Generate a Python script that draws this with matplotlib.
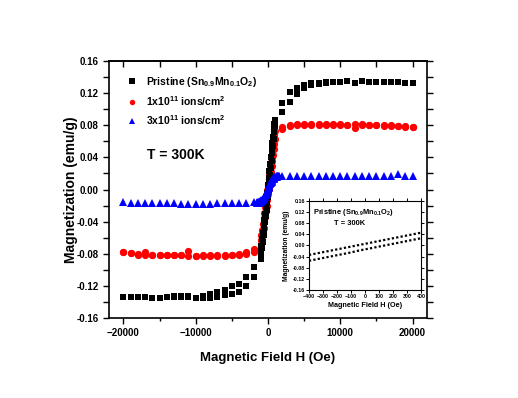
import numpy as np
import matplotlib
matplotlib.use("Agg")
import matplotlib.pyplot as plt
from matplotlib.ticker import MultipleLocator, FormatStrFormatter

plt.rcParams['font.family'] = ['Liberation Sans', 'DejaVu Sans']
plt.rcParams['font.weight'] = 'bold'
plt.rcParams['mathtext.fontset'] = 'custom'
plt.rcParams['mathtext.rm'] = 'Liberation Sans:bold'
plt.rcParams['mathtext.it'] = 'Liberation Sans:bold'
plt.rcParams['mathtext.bf'] = 'Liberation Sans:bold'
plt.rcParams['mathtext.default'] = 'regular'

# ---------------- data ----------------
labels = [r'Pristine (Sn$_{0.9}$Mn$_{0.1}$O$_2$)',
          r'1x10$^{11}$ ions/cm$^2$',
          r'3x10$^{11}$ ions/cm$^2$']

H_neg = [-20000, -19000, -18000, -17000, -16000, -15000, -14000, -13000, -12000, -11000,
         -10000, -9000, -8000, -7000, -6000, -5000, -4000, -3000, -2000]
H_pos = [2000, 3000, 4000, 5000, 6000, 7000, 8000, 9000, 10000, 11000,
         12000, 13000, 14000, 15000, 16000, 17000, 18000, 19000, 20000]
H_core = [-1000, -900, -800, -700, -600, -500, -400, -300, -200, -100, 0,
          100, 200, 300, 400, 500, 600, 700, 800, 900, 1000]

# Pristine (black squares)
pr_neg_up = [-0.134, -0.134, -0.134, -0.134, -0.135, -0.135, -0.134, -0.132, -0.133, -0.133,
             -0.135, -0.132, -0.130, -0.128, -0.125, -0.120, -0.118, -0.109, -0.096]
pr_neg_lo = [-0.134, -0.134, -0.134, -0.134, -0.135, -0.135, -0.134, -0.134, -0.134, -0.134,
             -0.135, -0.135, -0.135, -0.134, -0.131, -0.130, -0.128, -0.120, -0.109]
pr_pos_up = [0.108, 0.121, 0.127, 0.130, 0.132, 0.132, 0.1335, 0.134, 0.134, 0.1355,
             0.133, 0.1355, 0.134, 0.134, 0.134, 0.134, 0.134, 0.133, 0.132]
pr_pos_lo = [0.097, 0.109, 0.1185, 0.126, 0.130, 0.131, 0.133, 0.134, 0.134, 0.135,
             0.133, 0.135, 0.134, 0.134, 0.134, 0.134, 0.134, 0.133, 0.132]
pr_core_up = [-0.078, -0.070, -0.062, -0.054, -0.046, -0.038, -0.030, -0.022, -0.013, -0.004, 0.005,
              0.014, 0.023, 0.032, 0.041, 0.050, 0.058, 0.066, 0.074, 0.081, 0.087]
pr_core_lo = [-0.086, -0.080, -0.073, -0.065, -0.057, -0.049, -0.041, -0.033, -0.025, -0.017, -0.009,
              0.000, 0.009, 0.018, 0.027, 0.036, 0.045, 0.054, 0.063, 0.071, 0.079]

# 1x10^11 (red circles)
r1_neg_up = [-0.078, -0.0795, -0.080, -0.078, -0.081, -0.081, -0.081, -0.0815, -0.081, -0.076,
             -0.0825, -0.082, -0.082, -0.082, -0.081, -0.081, -0.080, -0.078, -0.074]
r1_neg_lo = [-0.078, -0.0795, -0.081, -0.082, -0.081, -0.081, -0.081, -0.0815, -0.082, -0.083,
             -0.0825, -0.083, -0.083, -0.083, -0.083, -0.082, -0.081, -0.080, -0.078]
r1_pos_up = [0.078, 0.080, 0.081, 0.081, 0.081, 0.081, 0.081, 0.081, 0.081, 0.0805,
             0.081, 0.081, 0.080, 0.080, 0.080, 0.080, 0.0795, 0.079, 0.078]
r1_pos_lo = [0.075, 0.079, 0.080, 0.080, 0.080, 0.080, 0.080, 0.080, 0.080, 0.080,
             0.077, 0.080, 0.080, 0.080, 0.079, 0.079, 0.079, 0.078, 0.078]
r1_core_up = [-0.063, -0.057, -0.050, -0.043, -0.036, -0.029, -0.022, -0.015, -0.008, -0.001, 0.006,
              0.013, 0.020, 0.027, 0.034, 0.041, 0.048, 0.055, 0.062, 0.068, 0.073]
r1_core_lo = [-0.073, -0.068, -0.062, -0.055, -0.048, -0.041, -0.034, -0.027, -0.020, -0.013, -0.006,
              0.001, 0.008, 0.015, 0.022, 0.029, 0.036, 0.043, 0.050, 0.057, 0.063]

# 3x10^11 (blue triangles)
r3_neg = [-0.016, -0.0165, -0.0165, -0.0165, -0.0165, -0.0165, -0.0165, -0.0165, -0.018, -0.0175,
          -0.0175, -0.0175, -0.0175, -0.017, -0.017, -0.017, -0.0165, -0.0165, -0.016]
r3_pos = [0.0162, 0.0168, 0.0168, 0.0168, 0.0168, 0.0168, 0.0168, 0.0168, 0.0168, 0.0168,
          0.017, 0.0168, 0.0168, 0.0168, 0.0168, 0.0168, 0.019, 0.017, 0.0162]
H_core_b = [-1500, -1400, -1300, -1200, -1100, -1000, -900, -800, -700, -600, -500, -400, -300, -200,
            -100, 0, 100, 200, 300, 400, 500, 600, 700, 800, 900, 1000, 1100, 1200, 1300, 1400, 1500]
r3_core_up = [-0.0160, -0.0158, -0.0155, -0.0150, -0.0146, -0.0140, -0.0133, -0.0125, -0.0115, -0.0104,
              -0.0090, -0.0074, -0.0056, -0.0036, -0.0014, 0.0010, 0.0035, 0.0058, 0.0079, 0.0097,
              0.0112, 0.0125, 0.0136, 0.0145, 0.0152, 0.0157, 0.0160, 0.0163, 0.0165, 0.0166, 0.0167]
r3_core_lo = [-0.0166, -0.0165, -0.0163, -0.0160, -0.0156, -0.0151, -0.0145, -0.0137, -0.0128, -0.0117,
              -0.0104, -0.0088, -0.0070, -0.0050, -0.0028, -0.0004, 0.0020, 0.0043, 0.0064, 0.0083,
              0.0099, 0.0113, 0.0125, 0.0136, 0.0144, 0.0151, 0.0156, 0.0160, 0.0163, 0.0165, 0.0166]

# inset (pristine, low field)
H_in = [-400, -350, -300, -250, -200, -150, -100, -50, 0, 50, 100, 150, 200, 250, 300, 350, 400]
in_up = [-0.034, -0.029, -0.024, -0.019, -0.014, -0.009, -0.004, 0.001, 0.006, 0.011,
         0.016, 0.021, 0.026, 0.031, 0.036, 0.041, 0.046]
in_lo = [-0.055, -0.050, -0.045, -0.040, -0.035, -0.030, -0.025, -0.019, -0.014, -0.009,
         -0.004, 0.001, 0.006, 0.011, 0.016, 0.021, 0.026]

# ---------------- figure ----------------
fig = plt.figure(figsize=(5.18, 3.98), dpi=100)
ax = fig.add_axes([0.2104, 0.201, 0.6139, 0.6457])

def draw(xs_list, ys_list, marker, color, label, size):
    first = True
    for xs, ys in zip(xs_list, ys_list):
        ax.plot(xs, ys, linestyle='none', marker=marker, color=color, markersize=size,
                markeredgewidth=0, label=label if first else None)
        first = False

draw([H_neg, H_neg, H_pos, H_pos, H_core, H_core],
     [r1_neg_up, r1_neg_lo, r1_pos_up, r1_pos_lo, r1_core_up, r1_core_lo],
     'o', '#ff0000', labels[1], 5.2)
draw([H_neg, H_neg, H_pos, H_pos, H_core, H_core],
     [pr_neg_up, pr_neg_lo, pr_pos_up, pr_pos_lo, pr_core_up, pr_core_lo],
     's', 'black', labels[0], 4.9)
draw([H_neg, H_pos, H_core_b, H_core_b],
     [r3_neg, r3_pos, r3_core_up, r3_core_lo],
     '^', '#0000ff', labels[2], 5.6)

ax.set_xlim(-22000, 22000)
ax.set_ylim(-0.16, 0.16)
ax.xaxis.set_major_locator(MultipleLocator(10000))
ax.xaxis.set_minor_locator(MultipleLocator(5000))
ax.yaxis.set_major_locator(MultipleLocator(0.04))
ax.yaxis.set_minor_locator(MultipleLocator(0.02))
ax.yaxis.set_major_formatter(FormatStrFormatter('%.2f'))
ax.tick_params(which='both', direction='out', right=True, top=False, width=1.0)
ax.tick_params(which='major', length=4, labelsize=7)
ax.tick_params(which='minor', length=2.5)
ax.tick_params(axis='y', which='minor', right=True, length=4)
for s in ax.spines.values():
    s.set_linewidth(1.2)

sec = ax.secondary_xaxis('top')
sec.xaxis.set_major_locator(MultipleLocator(5000))
sec.tick_params(direction='in', length=4, width=1.0, labeltop=False)
sec.spines['top'].set_linewidth(1.2)

ax.set_xlabel('Magnetic Field H (Oe)', fontsize=9.5, fontweight='bold', labelpad=10)
ax.set_ylabel('Magnetization (emu/g)', fontsize=10, fontweight='bold', labelpad=-1)

handles, labs = ax.get_legend_handles_labels()
order = [labs.index(l) for l in labels]
leg = ax.legend([handles[i] for i in order], [labs[i] for i in order],
                loc='upper left', bbox_to_anchor=(0.035, 0.97), frameon=False,
                fontsize=7.5, markerscale=0.75, handlelength=1.0, handletextpad=0.9,
                labelspacing=0.5, borderaxespad=0.2)
for t in leg.get_texts():
    t.set_fontweight('bold')

ax.text(0.21, 0.634, 'T = 300K', transform=ax.transAxes, fontsize=10,
        fontweight='bold', ha='center', va='center')

# ---------------- inset ----------------
axi = fig.add_axes([0.5965, 0.2714, 0.2162, 0.2236])
axi.plot(H_in, in_up, color='black', linestyle=(0, (1, 1)), linewidth=1.6,
         dash_capstyle='butt')
axi.plot(H_in, in_lo, color='black', linestyle=(0, (1, 1)), linewidth=1.6,
         dash_capstyle='butt')
axi.set_xlim(-400, 400)
axi.set_ylim(-0.16, 0.16)
axi.xaxis.set_major_locator(MultipleLocator(100))
axi.yaxis.set_major_locator(MultipleLocator(0.04))
axi.yaxis.set_major_formatter(FormatStrFormatter('%.2f'))
axi.tick_params(which='both', direction='out', length=2, width=0.7, labelsize=3.8, pad=1,
                top=True, right=True)
for s in axi.spines.values():
    s.set_linewidth(0.8)
axi.set_xlabel('Magnetic Field H (Oe)', fontsize=5.2, fontweight='bold', labelpad=2)
axi.set_ylabel('Magnetization (emu/g)', fontsize=4.8, fontweight='bold', labelpad=1.5)
axi.text(0.04, 0.87, r'Pristine (Sn$_{0.9}$Mn$_{0.1}$O$_2$)', transform=axi.transAxes,
         fontsize=5.4, fontweight='bold', ha='left', va='center')
axi.text(0.36, 0.75, 'T = 300K', transform=axi.transAxes,
         fontsize=5.4, fontweight='bold', ha='center', va='center')

fig.savefig('out.png', dpi=100)
